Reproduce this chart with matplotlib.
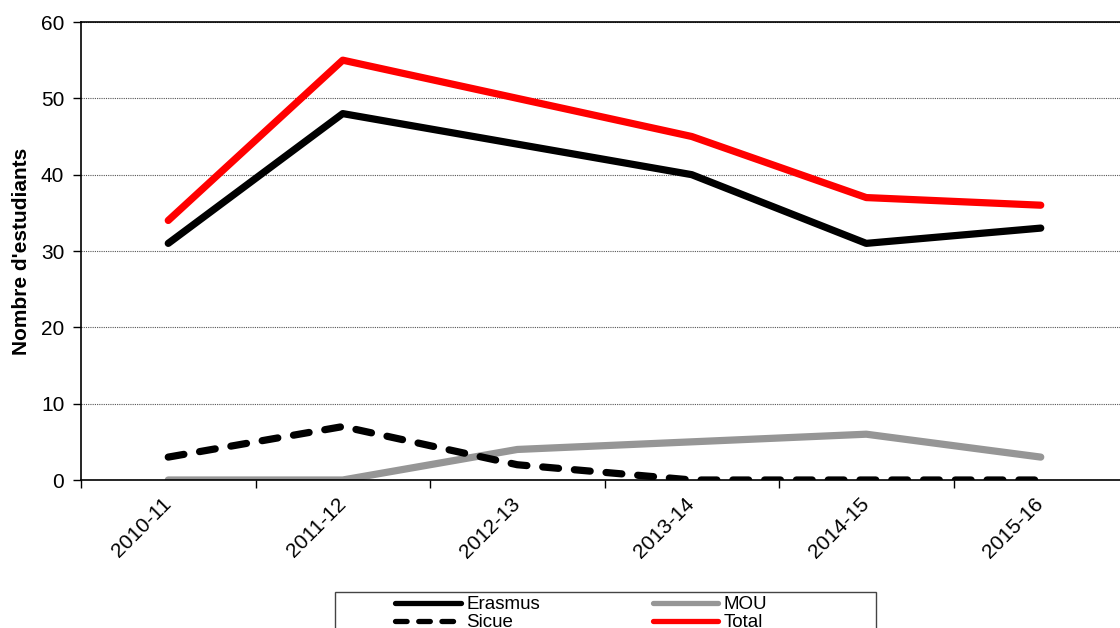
import matplotlib.pyplot as plt
from matplotlib.patches import Rectangle
from matplotlib.ticker import FixedLocator

plt.rcParams["font.family"] = ["Liberation Sans", "DejaVu Sans"]

years = ["2010-11", "2011-12", "2012-13", "2013-14", "2014-15", "2015-16"]
erasmus = [31, 48, 44, 40, 31, 33]
mou = [0, 0, 4, 5, 6, 3]
sicue = [3, 7, 2, 0, 0, 0]
total = [34, 55, 50, 45, 37, 36]

fig = plt.figure(figsize=(11.2, 6.28), dpi=100)
ax = fig.add_axes([81 / 1120, 1 - 480 / 628, 1047 / 1120, 458 / 628])

x = range(len(years))
lw = 5.2
dash = (0, (2.2, 2.2))
ax.plot(x, erasmus, color="black", lw=lw, solid_capstyle="round", label="Erasmus", zorder=3)
ax.plot(x, sicue, color="black", lw=lw, ls=dash, dash_capstyle="round",
        label="Sicue", zorder=4)
ax.plot(x, mou, color="#969696", lw=lw, solid_capstyle="round", label="MOU", zorder=3)
ax.plot(x, total, color="#ff0000", lw=lw, solid_capstyle="round", label="Total", zorder=3)

ax.set_xlim(-0.5, len(years) - 0.5)
ax.set_ylim(0, 60)
ax.set_yticks(range(0, 61, 10))
ax.set_xticks(list(x))
ax.set_xticklabels(years, rotation=45, ha="right", va="center", rotation_mode="anchor")
ax.xaxis.set_minor_locator(FixedLocator([i - 0.5 for i in range(len(years) + 1)]))
ax.tick_params(axis="x", which="major", length=0, pad=15, labelsize=15)
ax.tick_params(axis="x", which="minor", length=6, width=1, direction="out")
ax.tick_params(axis="y", length=6, width=1, direction="out", labelsize=15, pad=6)

ax.grid(axis="y", color="#555555", ls=(0, (1, 1)), lw=0.8, zorder=0)
ax.spines["right"].set_visible(False)
for s in ["left", "bottom", "top"]:
    ax.spines[s].set_linewidth(1.2)
ax.spines["bottom"].set_zorder(5)

ax.set_ylabel("Nombre d'estudiants", fontsize=15, fontweight="bold", labelpad=7)

# legend frame drawn separately
fig.patches.append(Rectangle((335 / 1120, -0.1), 541 / 1120, 0.1 + 36 / 628,
                             transform=fig.transFigure, fill=False,
                             edgecolor="#444444", lw=1))
leg = ax.legend(loc="upper left", bbox_to_anchor=(395 / 1120, 1 - 596 / 628),
                bbox_transform=fig.transFigure, ncol=2, frameon=False,
                fontsize=13.5, handlelength=3.5, handletextpad=0.3,
                columnspacing=6.0, labelspacing=0.05, borderpad=0, borderaxespad=0)
for h in leg.get_lines():
    h.set_linewidth(3.8)

fig.savefig("out.png", dpi=100)
